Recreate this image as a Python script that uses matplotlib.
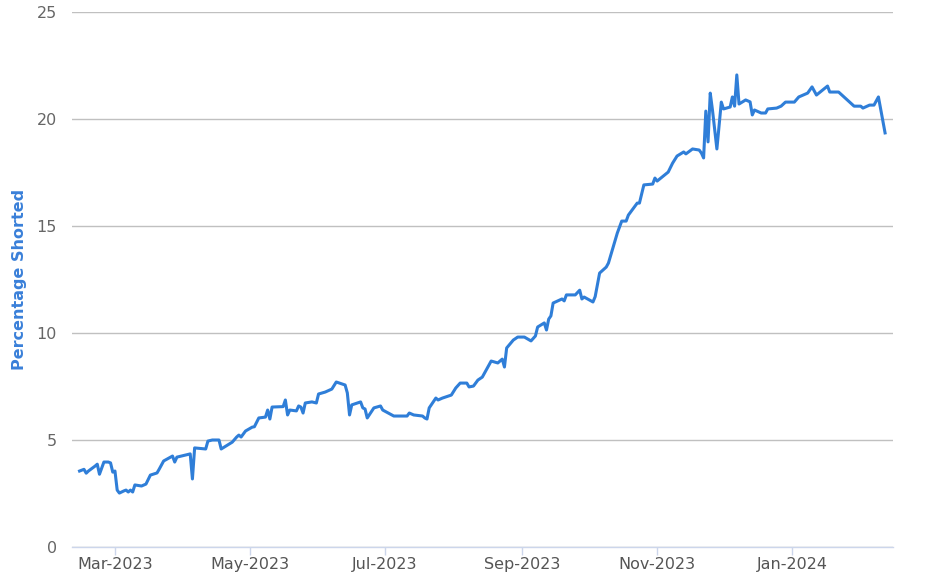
import matplotlib
matplotlib.use("Agg")
import matplotlib.pyplot as plt
import matplotlib.dates as mdates
import pandas as pd

# short interest readings
dates = [
    "2023-02-13", "2023-02-15", "2023-02-16", "2023-02-17", "2023-02-20", "2023-02-21",
    "2023-02-22", "2023-02-24", "2023-02-26", "2023-02-27", "2023-02-28", "2023-03-01",
    "2023-03-02", "2023-03-03", "2023-03-05", "2023-03-06", "2023-03-07", "2023-03-08",
    "2023-03-09", "2023-03-10", "2023-03-13", "2023-03-15", "2023-03-17", "2023-03-20",
    "2023-03-21", "2023-03-23", "2023-03-27", "2023-03-28", "2023-03-29", "2023-04-04",
    "2023-04-05", "2023-04-06", "2023-04-11", "2023-04-12", "2023-04-14", "2023-04-17",
    "2023-04-18", "2023-04-21", "2023-04-23", "2023-04-25", "2023-04-26", "2023-04-27",
    "2023-04-29", "2023-05-02", "2023-05-03", "2023-05-05", "2023-05-08", "2023-05-09",
    "2023-05-10", "2023-05-11", "2023-05-16", "2023-05-17", "2023-05-18", "2023-05-19",
    "2023-05-22", "2023-05-23", "2023-05-24", "2023-05-25", "2023-05-26", "2023-05-29",
    "2023-05-31", "2023-06-01", "2023-06-04", "2023-06-07", "2023-06-09", "2023-06-13",
    "2023-06-14", "2023-06-15", "2023-06-16", "2023-06-20", "2023-06-21", "2023-06-22",
    "2023-06-23", "2023-06-26", "2023-06-29", "2023-06-30", "2023-07-05", "2023-07-11",
    "2023-07-12", "2023-07-14", "2023-07-18", "2023-07-19", "2023-07-20", "2023-07-21",
    "2023-07-24", "2023-07-25", "2023-07-27", "2023-07-31", "2023-08-02", "2023-08-04",
    "2023-08-07", "2023-08-08", "2023-08-10", "2023-08-12", "2023-08-14", "2023-08-18",
    "2023-08-21", "2023-08-23", "2023-08-24", "2023-08-25", "2023-08-28", "2023-08-30",
    "2023-09-02", "2023-09-05", "2023-09-07", "2023-09-08", "2023-09-11", "2023-09-12",
    "2023-09-13", "2023-09-14", "2023-09-15", "2023-09-19", "2023-09-20", "2023-09-21",
    "2023-09-25", "2023-09-27", "2023-09-28", "2023-09-29", "2023-10-03", "2023-10-04",
    "2023-10-06", "2023-10-09", "2023-10-10", "2023-10-14", "2023-10-16", "2023-10-18",
    "2023-10-19", "2023-10-23", "2023-10-24", "2023-10-26", "2023-10-30", "2023-10-31",
    "2023-11-01", "2023-11-06", "2023-11-08", "2023-11-10", "2023-11-13", "2023-11-14",
    "2023-11-17", "2023-11-20", "2023-11-21", "2023-11-22", "2023-11-23", "2023-11-24",
    "2023-11-25", "2023-11-26", "2023-11-28", "2023-11-30", "2023-12-01", "2023-12-04",
    "2023-12-05", "2023-12-06", "2023-12-07", "2023-12-08", "2023-12-11", "2023-12-13",
    "2023-12-14", "2023-12-15", "2023-12-18", "2023-12-20", "2023-12-21", "2023-12-25",
    "2023-12-27", "2023-12-29", "2024-01-02", "2024-01-04", "2024-01-08", "2024-01-10",
    "2024-01-12", "2024-01-17", "2024-01-18", "2024-01-22", "2024-01-25", "2024-01-29",
    "2024-02-01", "2024-02-02", "2024-02-05", "2024-02-07", "2024-02-09", "2024-02-12",
]
shorted = [
    3.55, 3.63, 3.45, 3.55, 3.78, 3.87,
    3.40, 3.97, 3.97, 3.93, 3.50, 3.55,
    2.66, 2.52, 2.62, 2.66, 2.57, 2.66,
    2.57, 2.90, 2.85, 2.94, 3.36, 3.46,
    3.64, 4.02, 4.25, 3.97, 4.20, 4.35,
    3.18, 4.63, 4.58, 4.95, 5.00, 5.00,
    4.58, 4.77, 4.90, 5.14, 5.23, 5.14,
    5.42, 5.60, 5.62, 6.03, 6.07, 6.40,
    5.98, 6.54, 6.56, 6.87, 6.17, 6.40,
    6.36, 6.59, 6.54, 6.26, 6.73, 6.78,
    6.73, 7.15, 7.24, 7.38, 7.71, 7.57,
    7.20, 6.17, 6.64, 6.78, 6.50, 6.45,
    6.03, 6.50, 6.59, 6.40, 6.12, 6.12,
    6.26, 6.17, 6.12, 6.03, 5.98, 6.50,
    6.96, 6.87, 6.96, 7.10, 7.43, 7.66,
    7.66, 7.48, 7.52, 7.80, 7.94, 8.69,
    8.60, 8.78, 8.41, 9.30, 9.67, 9.81,
    9.81, 9.63, 9.86, 10.28, 10.47, 10.14,
    10.65, 10.80, 11.40, 11.59, 11.50, 11.78,
    11.78, 12.00, 11.59, 11.68, 11.45, 11.70,
    12.80, 13.08, 13.27, 14.67, 15.23, 15.23,
    15.51, 16.07, 16.07, 16.92, 16.96, 17.24,
    17.10, 17.52, 17.94, 18.27, 18.46, 18.37,
    18.60, 18.55, 18.41, 18.18, 20.37, 18.93,
    21.21, 20.42, 18.60, 20.79, 20.47, 20.56,
    21.03, 20.60, 22.06, 20.70, 20.89, 20.80,
    20.19, 20.42, 20.28, 20.28, 20.47, 20.51,
    20.60, 20.79, 20.79, 21.03, 21.21, 21.50,
    21.12, 21.54, 21.26, 21.26, 20.98, 20.60,
    20.60, 20.51, 20.65, 20.65, 21.03, 19.35,
]
y_ticks = [0, 5, 10, 15, 20, 25]

x = pd.to_datetime(dates)

fig = plt.figure(figsize=(9.3, 5.77), dpi=100)
ax = fig.add_axes([72 / 930, 1 - 547 / 577, (893 - 72) / 930, (547 - 12) / 577])

ax.plot(x, shorted, color="#2f7ed8", linewidth=2.2, solid_joinstyle="round")

ax.set_ylim(0, 25)
ax.set_yticks(y_ticks)
ax.set_xlim(pd.Timestamp("2023-02-09 14:00"), pd.Timestamp("2024-02-15 14:00"))
ax.xaxis.set_major_locator(mdates.MonthLocator(bymonth=[1, 3, 5, 7, 9, 11]))
ax.xaxis.set_major_formatter(mdates.DateFormatter("%b-%Y"))

ax.grid(axis="y", color="#c0c0c0", linewidth=1)
ax.set_axisbelow(True)
for s in ["top", "right", "left"]:
    ax.spines[s].set_visible(False)
ax.spines["bottom"].set_color("#ccd6eb")
ax.spines["bottom"].set_linewidth(1)

ax.tick_params(axis="y", length=0, pad=11, labelsize=11.5, labelcolor="#666666")
ax.tick_params(axis="x", length=6, width=1, color="#ccd6eb", pad=1,
               labelsize=11.5, labelcolor="#555555")

ax.set_ylabel("Percentage Shorted", color="#3a80d9", fontsize=11.5,
              fontweight="bold", labelpad=7)

fig.savefig("out.png", dpi=100)
